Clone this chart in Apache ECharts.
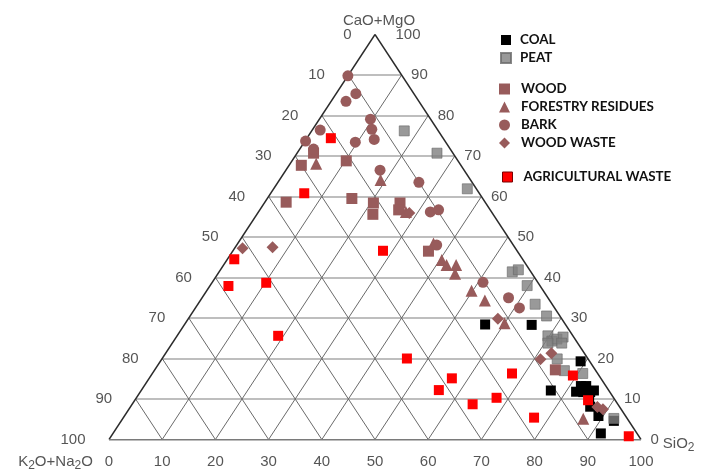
<!DOCTYPE html>
<html><head><meta charset="utf-8">
<script src="https://cdn.jsdelivr.net/npm/echarts@6.0.0/dist/echarts.min.js"></script>
<style>html,body{margin:0;padding:0;background:#fff}#c{width:713px;height:470px}</style>
</head><body><div id="c"></div>
<script>
// Ternary values: [SiO2, CaO+MgO]; K2O+Na2O = 100 - SiO2 - (CaO+MgO)
const ticks = [0,10,20,30,40,50,60,70,80,90,100];
const coal = [[56.5,28.4],[65.3,28.3],[79.0,19.3],[77.0,12.1],[81.9,11.8],[82.1,13.2],[83.1,13.2],[85.1,12.1],[83.3,11.7],[84.6,11.7],[85.0,10.5],[86.4,8.1],[89.1,5.8],[92.6,4.6],[91.7,1.5]];
const peat = [[17.4,76.2],[26.3,70.7],[36.4,61.9],[55.1,41.4],[56.0,41.9],[59.6,38.0],[63.4,33.4],[67.0,30.5],[69.7,25.6],[71.1,24.3],[71.8,24.8],[72.7,25.3],[73.2,23.8],[70.6,23.8],[74.3,19.9],[77.1,17.0],[80.9,16.3],[92.3,5.2]];
const wood = [[3.1,70.7],[2.3,67.7],[10.2,68.8],[4.0,58.6],[15.9,59.5],[20.5,58.4],[21.8,55.6],[25.5,58.4],[26.1,56.7],[36.8,46.5],[75.3,17.2]];
const forestry = [[4.9,68.1],[19.0,64.1],[27.7,56.2],[36.8,48.4],[40.4,44.3],[41.9,43.1],[43.7,43.1],[44.6,40.9],[49.8,36.7],[53.5,34.3],[60.0,28.7],[86.6,5.1]];
const bark = [[0.0,89.8],[3.7,85.4],[2.8,83.5],[9.6,79.1],[11.1,76.6],[12.8,74.1],[9.6,73.4],[1.5,76.4],[0.1,73.7],[2.6,71.7],[17.7,66.5],[26.5,63.5],[32.3,56.2],[33.6,56.7],[37.6,48.0],[50.9,38.8],[57.6,35.0],[60.9,32.5]];
const woodWaste = [[1.5,47.2],[7.0,47.5],[28.5,55.9],[58.2,29.8],[71.2,19.8],[72.5,21.3],[87.8,8.0],[89.1,7.5]];
const agri = [[4.5,74.4],[6.3,60.8],[28.2,46.6],[1.3,44.5],[3.5,37.9],[10.2,38.7],[19.0,25.6],[46.0,20.0],[56.9,15.1],[55.9,12.2],[64.0,8.7],[67.7,10.3],[67.6,16.3],[77.2,5.4],[79.3,15.8],[85.2,9.7],[97.3,0.8]];

// ternary -> cartesian helper
const toXY = ([s, c]) => [s + c / 2, c];

const brown = '#985b5b';
const txt = '#2a2a2a';
const font = 'Liberation Sans';

function segs(list) { return list.map(p => ({coords: [toXY(p[0]), toXY(p[1])]})); }
const inner = ticks.filter(t => t > 0 && t < 100);
const horiz = inner.map(k => [[0, k], [100 - k, k]]);
const diagS = inner.map(k => [[k, 0], [k, 100 - k]]);
const diagK = inner.map(k => [[100 - k, 0], [0, 100 - k]]);

function pointSeries(name, arr, symbol, size, color, extra) {
  return Object.assign({
    name, type: 'scatter', symbol, symbolSize: size, z: 5,
    itemStyle: {color: color, opacity: 1},
    data: arr.map(toXY)
  }, extra || {});
}

function labelSeries(data, label) {
  return {type: 'scatter', symbolSize: 1, silent: true, z: 6,
    itemStyle: {color: 'rgba(0,0,0,0)'},
    label: Object.assign({show: true, color: txt, fontFamily: font, fontSize: 15, formatter: p => p.name}, label),
    data: data};
}

const leftLab = ticks.map(k => ({name: String(k), value: toXY([0, 100 - k])}));
const rightLab = ticks.map(c => {
  const d = {name: String(c), value: toXY([100 - c, c])};
  if (c === 100) d.label = {distance: 20};
  if (c === 0) d.label = {formatter: '{n|0}{t|SiO}{s|2}'};
  return d;
});
const bottomLab = ticks.map(s => ({name: String(s), value: toXY([s, 0])}));

const rich = {
  n: {fontSize: 15, color: txt, fontFamily: font},
  t: {fontSize: 15, color: txt, fontFamily: font, padding: [8, 0, 0, 4]},
  s: {fontSize: 12, color: txt, fontFamily: font, padding: [16, 0, 0, 0]},
  a: {fontSize: 15, color: txt, fontFamily: font},
  b: {fontSize: 12, color: txt, fontFamily: font, padding: [8, 0, 0, 0]}
};

const legText = {fontFamily: 'Lato', fontWeight: 'bold', fontSize: 13.4, lineHeight: 14, color: '#111'};

const option = {
  animation: false,
  backgroundColor: '#fff',
  grid: {left: 109, right: 72, top: 34.5, bottom: 30.5},
  xAxis: {type: 'value', min: 0, max: 100, show: false},
  yAxis: {type: 'value', min: 0, max: 100, show: false},
  legend: [
    {data: ['COAL', 'PEAT'], orient: 'vertical', left: 500, top: 33, padding: 0, itemWidth: 10, itemHeight: 10, itemGap: 4,
      selectedMode: false, textStyle: Object.assign({}, legText, {padding: [0, 0, 0, 4]})},
    {data: ['WOOD', 'FORESTRY RESIDUES', 'BARK', 'WOOD WASTE'], orient: 'vertical', left: 499, top: 82, padding: 0, itemWidth: 11, itemHeight: 11, itemGap: 4,
      selectedMode: false, textStyle: Object.assign({}, legText, {padding: [0, 0, 0, 6]})},
    {data: [{name: 'AGRICULTURAL WASTE', itemStyle: {borderColor: '#7a0000', borderWidth: 1}}], orient: 'vertical', left: 502, top: 170, padding: 0, itemWidth: 10, itemHeight: 10,
      selectedMode: false, textStyle: Object.assign({}, legText, {padding: [0, 0, 0, 6]})}
  ],
  series: [
    {type: 'lines', coordinateSystem: 'cartesian2d', silent: true, z: 1, lineStyle: {color: '#a8a8a8', width: 1.6, opacity: 1}, data: segs(horiz)},
    {type: 'lines', coordinateSystem: 'cartesian2d', silent: true, z: 1, lineStyle: {color: '#6a6a6a', width: 1, opacity: 1}, data: segs(diagS.concat(diagK))},
    {type: 'lines', coordinateSystem: 'cartesian2d', silent: true, z: 2, lineStyle: {color: '#2a2a2a', width: 1.4, opacity: 1},
      data: segs([[[0, 0], [0, 100]], [[0, 100], [100, 0]]])},
    {type: 'lines', coordinateSystem: 'cartesian2d', silent: true, z: 2, lineStyle: {color: '#7a7a7a', width: 2, opacity: 1},
      data: segs([[[0, 0], [100, 0]]])},
    pointSeries('COAL', coal, 'rect', 10, '#000'),
    pointSeries('PEAT', peat, 'rect', 10, '#808080', {itemStyle: {color: '#808080', borderColor: '#6a6a6a', borderWidth: 0.8}}),
    pointSeries('WOOD', wood, 'rect', 11, brown),
    pointSeries('FORESTRY RESIDUES', forestry, 'triangle', 12, brown),
    pointSeries('BARK', bark, 'circle', 11, brown),
    pointSeries('WOOD WASTE', woodWaste, 'diamond', 12, brown),
    pointSeries('AGRICULTURAL WASTE', agri, 'rect', 10, '#ff0000'),
    labelSeries(leftLab, {position: 'left', distance: 23}),
    labelSeries(rightLab, {position: 'right', distance: 9, rich: rich}),
    labelSeries(bottomLab, {position: 'bottom', distance: 14}),
    labelSeries([{name: 'CaO+MgO', value: toXY([0, 100])}], {position: 'top', distance: 6, offset: [4, 0]}),
    labelSeries([{name: 'K2O+Na2O', value: toXY([0, 0])}], {position: [-53, 23], align: 'center', verticalAlign: 'middle',
      formatter: '{a|K}{b|2}{a|O+Na}{b|2}{a|O}', rich: rich})
  ]
};
echarts.init(document.getElementById('c'), null, {renderer: 'canvas'}).setOption(option);
</script>
</body></html>
